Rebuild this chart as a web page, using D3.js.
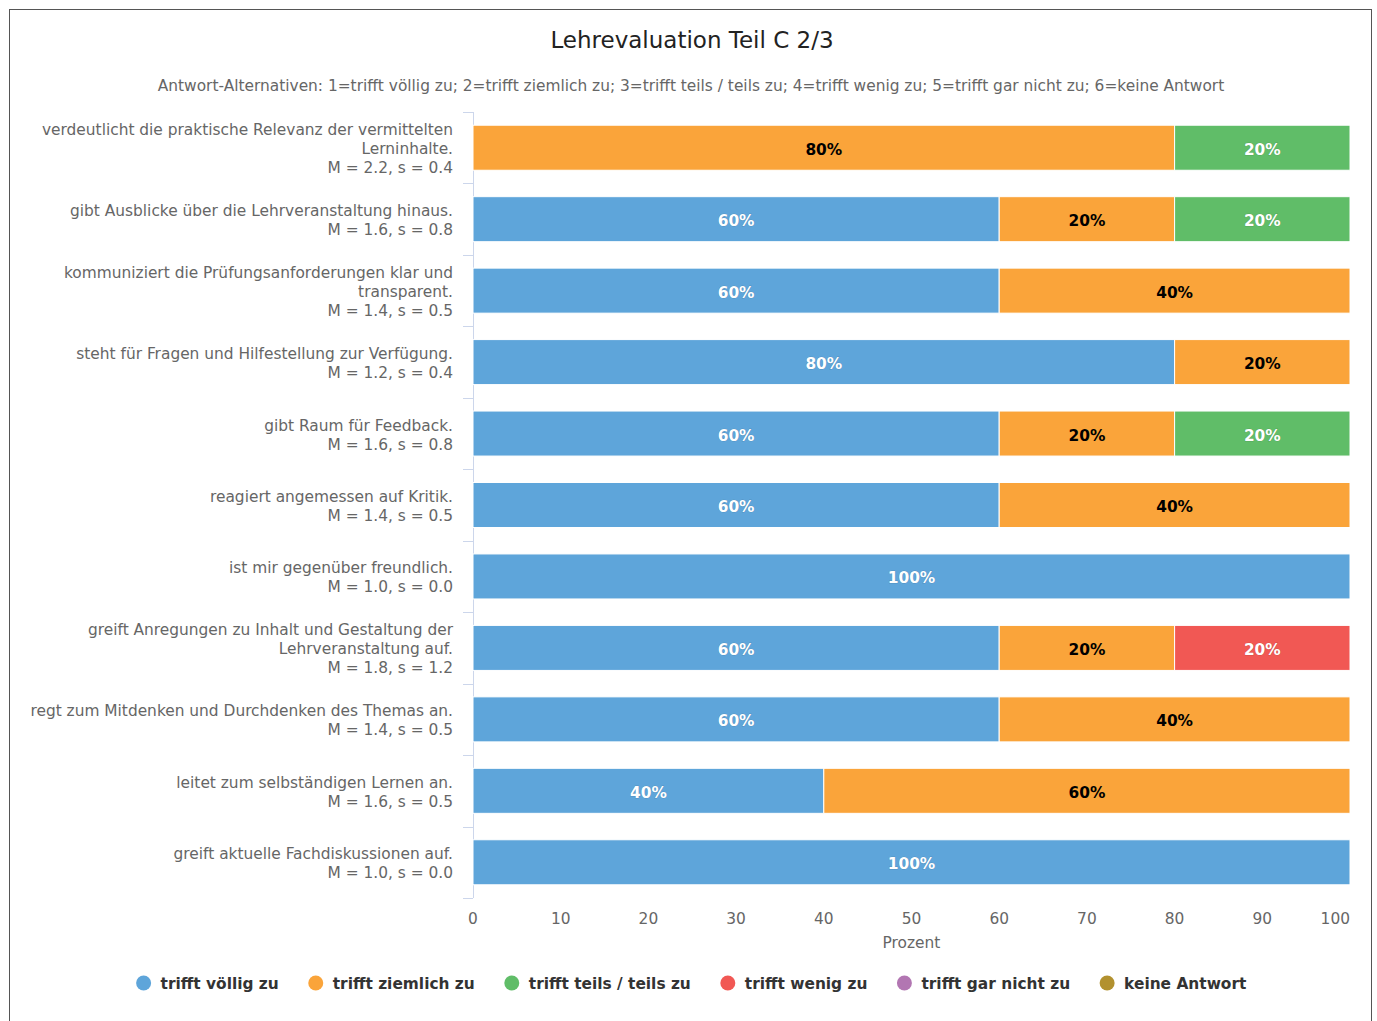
<!DOCTYPE html>
<html><head><meta charset="utf-8">
<script src="https://cdn.jsdelivr.net/npm/d3@7"></script>
<style>
body{margin:0;background:#fff;}
svg{font-family:"DejaVu Sans",sans-serif;}
</style></head>
<body><svg id="c" width="1377" height="1021"></svg>
<script>
const title = "Lehrevaluation Teil C 2/3";
const subtitle = "Antwort-Alternativen: 1=trifft völlig zu; 2=trifft ziemlich zu; 3=trifft teils / teils zu; 4=trifft wenig zu; 5=trifft gar nicht zu; 6=keine Antwort";
const categories = [
  ["verdeutlicht die praktische Relevanz der vermittelten", "Lerninhalte."],
  ["gibt Ausblicke über die Lehrveranstaltung hinaus."],
  ["kommuniziert die Prüfungsanforderungen klar und", "transparent."],
  ["steht für Fragen und Hilfestellung zur Verfügung."],
  ["gibt Raum für Feedback."],
  ["reagiert angemessen auf Kritik."],
  ["ist mir gegenüber freundlich."],
  ["greift Anregungen zu Inhalt und Gestaltung der", "Lehrveranstaltung auf."],
  ["regt zum Mitdenken und Durchdenken des Themas an."],
  ["leitet zum selbständigen Lernen an."],
  ["greift aktuelle Fachdiskussionen auf."]
];
const means = [2.2, 1.6, 1.4, 1.2, 1.6, 1.4, 1.0, 1.8, 1.4, 1.6, 1.0];
const sds   = [0.4, 0.8, 0.5, 0.4, 0.8, 0.5, 0.0, 1.2, 0.5, 0.5, 0.0];
const seriesNames = ["trifft völlig zu", "trifft ziemlich zu", "trifft teils / teils zu", "trifft wenig zu", "trifft gar nicht zu", "keine Antwort"];
const seriesColors = ["#5ea5da", "#faa43a", "#60bd68", "#f15854", "#b276b2", "#b2912f"];
const v1 = [0, 60, 60, 80, 60, 60, 100, 60, 60, 40, 100];
const v2 = [80, 20, 40, 20, 20, 40, 0, 20, 40, 60, 0];
const v3 = [20, 20, 0, 0, 20, 0, 0, 0, 0, 0, 0];
const v4 = [0, 0, 0, 0, 0, 0, 0, 20, 0, 0, 0];
const v5 = [0, 0, 0, 0, 0, 0, 0, 0, 0, 0, 0];
const v6 = [0, 0, 0, 0, 0, 0, 0, 0, 0, 0, 0];
const xTicks = [0, 10, 20, 30, 40, 50, 60, 70, 80, 90, 100];
const xTitle = "Prozent";

const FS = 15.4;
const svg = d3.select("#c");
svg.append("rect").attr("x",9.5).attr("y",9.5).attr("width",1362).attr("height",1030)
  .attr("fill","#fff").attr("stroke","#555").attr("stroke-width",1);

svg.append("text").attr("x",692).attr("y",48).attr("text-anchor","middle")
  .attr("font-size",23).attr("fill","#222").text(title);
svg.append("text").attr("x",691).attr("y",91).attr("text-anchor","middle")
  .attr("font-size",FS).attr("fill","#666").text(subtitle);

const L = 473, R = 1350, T = 112, B = 898;
const x = d3.scaleLinear().domain([0,100]).range([L,R]);
const y = d3.scaleBand().domain(d3.range(categories.length)).range([T,B]).paddingInner(0.37).paddingOuter(0.185);
const yb = d3.scaleBand().domain(d3.range(categories.length)).range([T,B]);

const rows = categories.map((c,i)=>({i, vals:[v1[i],v2[i],v3[i],v4[i],v5[i],v6[i]]}));
const keys = d3.range(6);
const stack = d3.stack().keys(keys).value((d,k)=>d.vals[k]);
const stacked = stack(rows);

// axis line and ticks
svg.append("line").attr("x1",L+0.5).attr("x2",L+0.5).attr("y1",T).attr("y2",B).attr("stroke","#ccd6eb");
const bounds = d3.range(categories.length+1).map(k => k < categories.length ? yb(k) : B);
svg.selectAll(".tk").data(bounds).enter().append("line")
  .attr("x1",L-10).attr("x2",L).attr("y1",d=>Math.round(d)+0.5).attr("y2",d=>Math.round(d)+0.5).attr("stroke","#ccd6eb");

const g = svg.append("g");
stacked.forEach((layer,k)=>{
  g.selectAll(null).data(layer.filter(d=>d[1]-d[0]>0)).enter().append("rect")
    .attr("x",d=>x(d[0])).attr("width",d=>x(d[1])-x(d[0]))
    .attr("y",d=>y(d.data.i)).attr("height",y.bandwidth())
    .attr("fill",seriesColors[k]).attr("stroke","#fff").attr("stroke-width",1);
});
stacked.forEach((layer,k)=>{
  g.selectAll(null).data(layer.filter(d=>d[1]-d[0]>0)).enter().append("text")
    .attr("x",d=>(x(d[0])+x(d[1]))/2).attr("y",d=>y(d.data.i)+y.bandwidth()/2+7)
    .attr("text-anchor","middle").attr("font-size",FS).attr("font-weight","bold")
    .attr("fill", k===1 ? "#000" : "#fff")
    .attr("stroke", k===1 ? "none" : "rgba(0,0,0,0.15)").attr("stroke-width",1).attr("paint-order","stroke")
    .text(d=>(d[1]-d[0])+"%");
});

// category labels
categories.forEach((lines,i)=>{
  const all = lines.concat([`M = ${means[i].toFixed(1)}, s = ${sds[i].toFixed(1)}`]);
  const lh = 19;
  const cy = yb(i) + yb.bandwidth()/2;
  const t = svg.append("text").attr("text-anchor","end").attr("font-size",FS).attr("fill","#666");
  all.forEach((ln,j)=>{
    t.append("tspan").attr("x",453).attr("y", cy - (all.length-1)*lh/2 + j*lh + 6.5).text(ln);
  });
});

// x tick labels
svg.selectAll(".xl").data(xTicks).enter().append("text")
  .attr("x",d=> x(d)).attr("y",924)
  .attr("text-anchor",d=> d===100 ? "end" : "middle")
  .attr("font-size",FS).attr("fill","#666").text(d=>d);
svg.append("text").attr("x",(L+R)/2).attr("y",948).attr("text-anchor","middle")
  .attr("font-size",FS).attr("fill","#666").text(xTitle);

// legend
const lg = svg.append("g");
const items = [];
seriesNames.forEach((n,k)=>{
  const it = lg.append("g");
  it.append("circle").attr("cx",0).attr("cy",0).attr("r",7.5).attr("fill",seriesColors[k]);
  const tx = it.append("text").attr("x",17).attr("y",5.5).attr("font-size",FS).attr("font-weight","bold").attr("fill","#333").text(n);
  const w = 17 + tx.node().getComputedTextLength();
  items.push({it, w});
});
const gap = 37;
const total = d3.sum(items, d=>d.w) + gap*(items.length-1);
let cx = 692 - total/2 + 3;
items.forEach(d=>{ d.it.attr("transform",`translate(${cx},983)`); cx += d.w + gap; });
</script></body></html>
